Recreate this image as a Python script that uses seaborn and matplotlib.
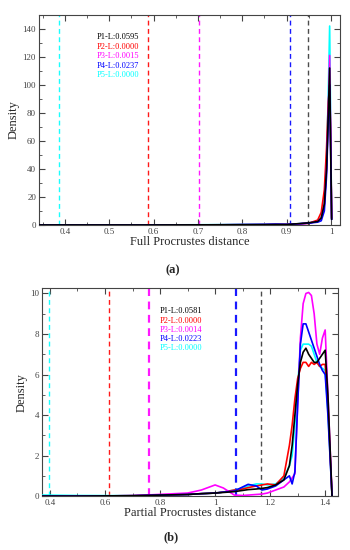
import numpy as np
import pandas as pd
import seaborn as sns
import matplotlib
matplotlib.use("Agg")
import matplotlib.pyplot as plt
from matplotlib.ticker import MultipleLocator, FuncFormatter

# series names / colours (same for both panels)
series = ["P1", "P2", "P3", "P4", "P5"]
colors = ["#000000", "#ff0000", "#ff00ff", "#0000ff", "#00ffff"]

# ---- panel (a): Full Procrustes distance ----
labels_a = ["P1-L:0.0595", "P2-L:0.0000", "P3-L:0.0015", "P4-L:0.0237", "P5-L:0.0000"]
means_a = [0.948, 0.587, 0.7025, 0.907, 0.387]
x_a = [0.34, 0.45, 0.6, 0.75, 0.85, 0.875, 0.9, 0.93, 0.95, 0.97, 0.978,
       0.985, 0.99, 0.994, 0.997, 0.999, 1.0015]
y_a = {
    "P1": [0, 0, 0, 0.1, 0.2, 0.3, 0.3, 1.0, 1.5, 2.5, 5, 15, 40, 80, 112, 60, 4],
    "P2": [0, 0, 0, 0.1, 0.2, 0.3, 0.3, 0.8, 1.2, 3.5, 9, 25, 55, 88, 100, 70, 5],
    "P3": [0, 0, 0, 0.1, 0.3, 0.4, 0.3, 0.8, 1.3, 2.5, 5, 14, 40, 82, 121, 70, 4],
    "P4": [0, 0, 0, 0.1, 0.3, 0.5, 0.4, 0.9, 1.3, 2.0, 3, 10, 35, 75, 100, 60, 4],
    "P5": [0, 0, 0, 0.2, 0.6, 0.8, 0.4, 0.9, 1.4, 2.5, 5, 15, 45, 95, 142, 80, 4],
}

# ---- panel (b): Partial Procrustes distance ----
labels_b = ["P1-L:0.0581", "P2-L:0.0000", "P3-L:0.0014", "P4-L:0.0223", "P5-L:0.0000"]
means_b = [1.168, 0.616, 0.76, 1.076, 0.396]
x_b = [0.37, 0.5, 0.7, 0.9, 0.95, 1.0, 1.03, 1.07, 1.1, 1.12, 1.15, 1.17, 1.19,
       1.22, 1.25, 1.27, 1.28, 1.29, 1.30, 1.31, 1.32, 1.33, 1.34, 1.35, 1.36,
       1.37, 1.38, 1.39, 1.40, 1.41, 1.425]
y_b = {
    "P1": [0, 0, 0.02, 0.08, 0.12, 0.15, 0.18, 0.22, 0.28, 0.32, 0.35, 0.38, 0.42,
           0.55, 0.8, 1.5, 2.5, 4.0, 5.5, 6.6, 7.1, 7.3, 7.0, 6.8, 6.6, 6.6, 6.8,
           7.0, 7.2, 5.0, 0],
    "P2": [0, 0, 0.02, 0.08, 0.12, 0.15, 0.2, 0.3, 0.35, 0.42, 0.5, 0.55, 0.6,
           0.55, 1.0, 2.5, 3.5, 4.8, 5.8, 6.3, 6.6, 6.6, 6.4, 6.6, 6.5, 6.6, 6.4,
           6.5, 6.5, 4.5, 0],
    "P3": [0, 0, 0.02, 0.15, 0.3, 0.55, 0.4, 0.05, 0.03, 0.05, 0.08, 0.1, 0.15,
           0.3, 0.45, 0.7, 0.9, 1.1, 4.5, 7.8, 9.5, 10.0, 10.05, 9.9, 9.0, 7.5,
           7.0, 7.8, 8.2, 5.0, 0],
    "P4": [0, 0, 0.02, 0.08, 0.12, 0.15, 0.2, 0.25, 0.45, 0.58, 0.5, 0.3, 0.35,
           0.5, 0.8, 1.0, 0.6, 1.2, 4.5, 7.5, 8.5, 8.5, 8.1, 7.7, 7.3, 6.9, 6.5,
           6.2, 6.0, 4.0, 0],
    "P5": [0.05, 0.03, 0.02, 0.08, 0.12, 0.15, 0.2, 0.3, 0.4, 0.5, 0.6, 0.6, 0.55,
           0.6, 0.9, 1.5, 2.0, 3.5, 5.5, 7.2, 7.5, 7.5, 7.5, 7.4, 7.0, 6.6, 6.4,
           6.3, 6.2, 4.2, 0],
}

sns.set_style("ticks")
plt.rcParams["font.family"] = ["Liberation Serif", "DejaVu Serif"]
frame = "#444444"


def fmt(v, pos):
    return ("%g" % round(v, 3))


def draw(ax, xs, ys, means, labels, xlim, ylim, xmaj, xmin, ymaj, ymin,
         xlabel, txt_x, txt_y, txt_dy, thick):
    df = pd.DataFrame([(x, v, s) for s in series for x, v in zip(xs, ys[s])],
                      columns=["x", "density", "series"])
    for i, m in enumerate(means):
        lw = 1.6 if thick[i] else 1.0
        ax.axvline(m, color=colors[i], ls=(0, (3.5, 2.5)), lw=lw,
                   alpha=0.7 if i == 0 else 0.9, zorder=1)
    sns.lineplot(data=df, x="x", y="density", hue="series", palette=colors,
                 hue_order=series, ax=ax, legend=False, lw=1.2,
                 sort=False, zorder=3)
    # stacking so that P1 (black) sits on top
    for ln, z in zip(ax.lines[-5:], [7, 4, 5, 6, 3]):
        ln.set_zorder(z)
    ax.set_xlim(*xlim)
    ax.set_ylim(*ylim)
    ax.xaxis.set_major_locator(MultipleLocator(xmaj))
    ax.xaxis.set_minor_locator(MultipleLocator(xmin))
    ax.yaxis.set_major_locator(MultipleLocator(ymaj))
    ax.yaxis.set_minor_locator(MultipleLocator(ymin))
    ax.xaxis.set_major_formatter(FuncFormatter(fmt))
    ax.yaxis.set_major_formatter(FuncFormatter(fmt))
    ax.tick_params(which="both", direction="in", top=True, right=True,
                   colors=frame, labelsize=6.5, pad=2)
    ax.tick_params(which="major", length=4, width=0.8)
    ax.tick_params(which="minor", length=2, width=0.6)
    for sp in ax.spines.values():
        sp.set_color(frame)
        sp.set_linewidth(0.8)
    ax.set_xlabel(xlabel, fontsize=9, labelpad=0)
    ax.set_ylabel("Density", fontsize=9, labelpad=2)
    for i, lab in enumerate(labels):
        ax.text(txt_x, txt_y - i * txt_dy, lab, color=colors[i], fontsize=6,
                transform=ax.transAxes, va="center", ha="left")


fig = plt.figure(figsize=(3.5, 5.5), dpi=100)
ax_a = fig.add_axes([0.111, 0.591, 0.86, 0.382])
ax_b = fig.add_axes([0.12, 0.098, 0.846, 0.378])

draw(ax_a, x_a, y_a, means_a, labels_a, (0.341, 1.02), (0, 150), 0.1, 0.05,
     20, 10, "Full Procrustes distance", 0.193, 0.895, 0.0457,
     [False] * 5)
draw(ax_b, x_b, y_b, means_b, labels_b, (0.371, 1.447), (0, 10.26), 0.2, 0.1,
     2, 1, "Partial Procrustes distance", 0.399, 0.889, 0.0447,
     [False, False, True, True, False])

fig.text(0.495, 1 - 270 / 550, "(a)", fontsize=9, fontweight="bold",
         ha="center", va="center")
fig.text(0.49, 1 - 537 / 550, "(b)", fontsize=9, fontweight="bold",
         ha="center", va="center")

fig.savefig("out.png", dpi=100)
